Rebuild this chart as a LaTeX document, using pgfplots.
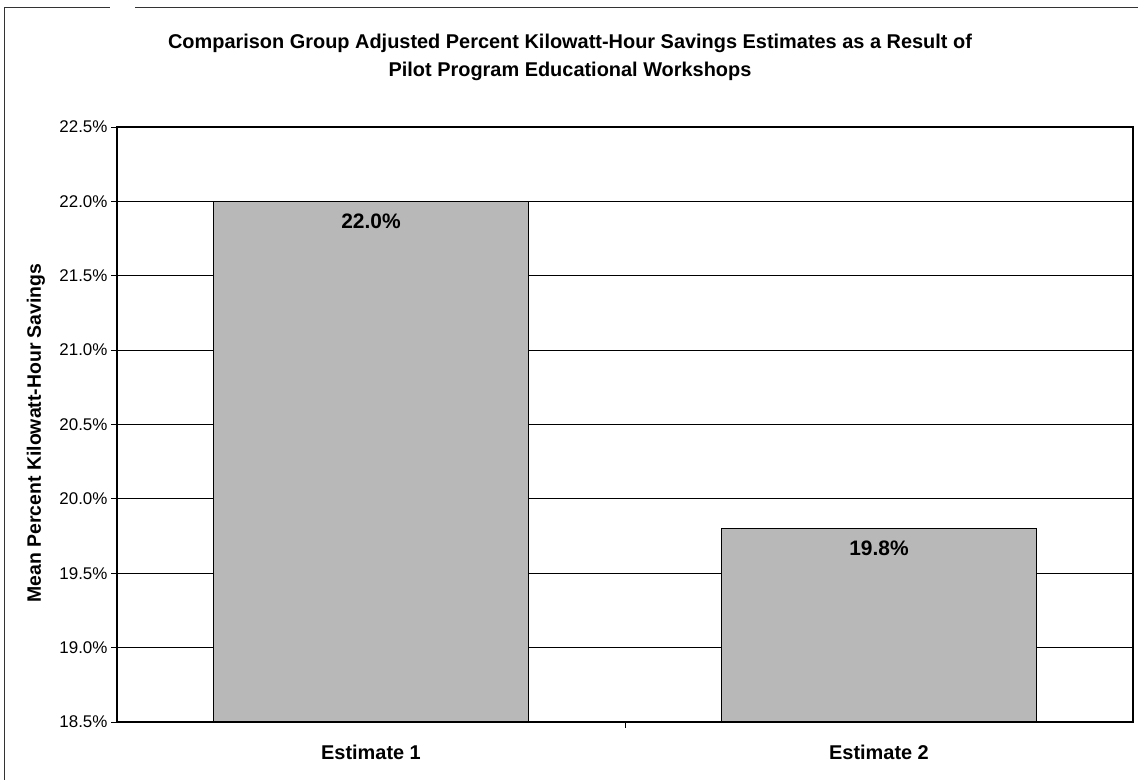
\documentclass[border=0pt]{standalone}
\usepackage{pgfplots}
\pgfplotsset{compat=1.18}
\usepackage{fontspec}
\setmainfont{Liberation Sans}
\definecolor{barfill}{gray}{0.72}
\begin{document}
\begin{tikzpicture}[x=1bp,y=1bp]
\useasboundingbox (0,0) rectangle (1138,780);
\draw[line width=1bp, black!80] (4,0) -- (4,772) -- (110,772);
\draw[line width=1bp, black!80] (135,772) -- (1138,772);
\node[font=\bfseries\fontsize{20}{28}\selectfont, align=center] at (570,723) {Comparison Group Adjusted Percent Kilowatt-Hour Savings Estimates as a Result of\\Pilot Program Educational Workshops};
\node[font=\bfseries\fontsize{19.5}{23}\selectfont, rotate=90] at (36,347) {Mean Percent Kilowatt-Hour Savings};
\begin{axis}[
  at={(117bp,58bp)}, anchor=south west,
  scale only axis, width=1016bp, height=595bp,
  xmin=-0.5, xmax=1.5, ymin=18.5, ymax=22.5,
  xtick={0.5}, xticklabels={},
  xtick pos=bottom, ytick pos=left,
  extra x ticks={0,1}, extra x tick labels={Estimate 1, Estimate 2},
  extra x tick style={major tick length=0pt, xticklabel style={font=\bfseries\fontsize{20}{24}\selectfont, yshift=-20bp}},
  ytick={18.5,19,...,22.5},
  yticklabel={\pgfmathprintnumber[fixed,fixed zerofill,precision=1]{\tick}\%},
  yticklabel style={font=\fontsize{17}{20}\selectfont},
  /pgf/number format/assume math mode=true,
  tick align=outside, major tick length=6bp,
  tick style={black, line width=0.8bp},
  ymajorgrids, major grid style={black, line width=0.8bp},
  axis line style={line width=1.2bp},
  ybar, bar width=315bp,
  nodes near coords={\pgfmathprintnumber[fixed,fixed zerofill,precision=1]{\pgfplotspointmeta}\%},
  every node near coord/.append style={anchor=north, yshift=-8bp, font=\bfseries\fontsize{21}{24}\selectfont},
]
\addplot[fill=barfill, draw=black, line width=1.5bp] coordinates {(0,22.0) (1,19.8)};
\end{axis}
\end{tikzpicture}
\end{document}
